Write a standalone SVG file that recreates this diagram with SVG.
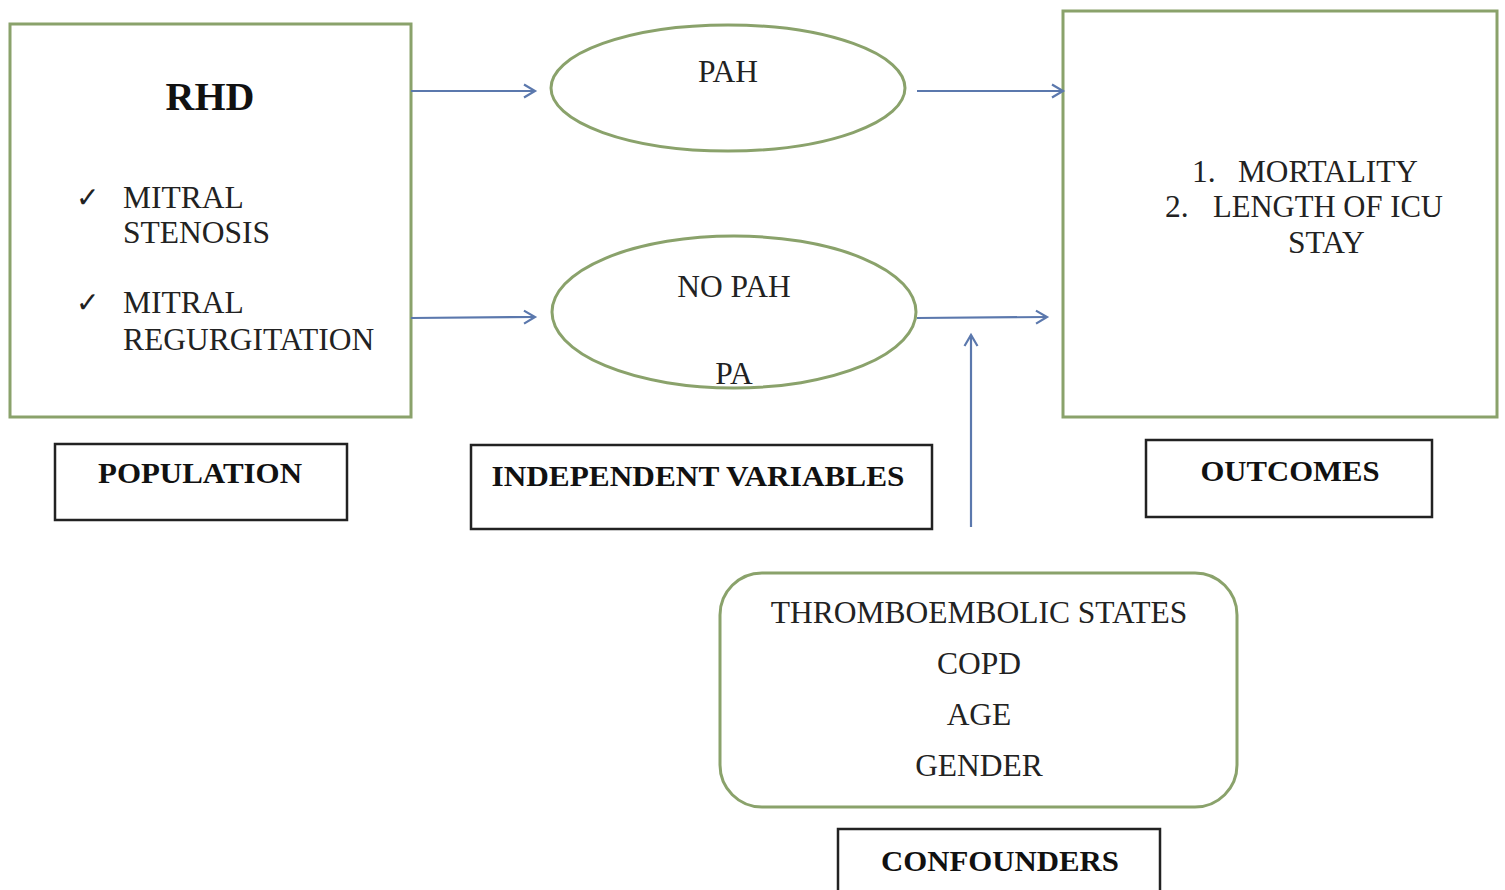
<svg xmlns="http://www.w3.org/2000/svg" width="1505" height="890" viewBox="0 0 1505 890">
<defs>
<marker id="arr" markerWidth="16" markerHeight="16" refX="13" refY="8" orient="auto" markerUnits="userSpaceOnUse">
<path d="M2,1.5 L13,8 L2,14.5" fill="none" stroke="#5b78ad" stroke-width="2.2"/>
</marker>
<style>
.g{fill:#fff;stroke:#8aa26b;stroke-width:3}
.k{fill:#fff;stroke:#222;stroke-width:2.5}
.t{font-family:"Liberation Serif",serif;font-size:31.5px;fill:#222}
.b{font-family:"Liberation Serif",serif;font-weight:bold;font-size:30px;fill:#111}
.c{stroke:#5b78ad;stroke-width:2.2;fill:none;marker-end:url(#arr)}
</style>
</defs>
<rect width="1505" height="890" fill="#fff"/>
<g id="population">
<rect class="g" x="10" y="24" width="401" height="393"/>
<text class="b" x="210" y="110" text-anchor="middle" style="font-size:40px">RHD</text>
<text class="t" x="76" y="207" style="font-size:28px">✓</text>
<text class="t" x="123" y="208">MITRAL</text>
<text class="t" x="123" y="243">STENOSIS</text>
<text class="t" x="76" y="312" style="font-size:28px">✓</text>
<text class="t" x="123" y="313">MITRAL</text>
<text class="t" x="123" y="350">REGURGITATION</text>
</g>
<g id="pah">
<ellipse class="g" cx="728" cy="88" rx="177" ry="63"/>
<text class="t" x="728" y="82" text-anchor="middle">PAH</text>
</g>
<g id="nopah">
<ellipse class="g" cx="734" cy="312" rx="182" ry="76"/>
<text class="t" x="734" y="297" text-anchor="middle">NO PAH</text>
<text class="t" x="734" y="384" text-anchor="middle">PA</text>
</g>
<g id="outcomes">
<rect class="g" x="1063" y="11" width="434" height="406"/>
<text class="t" x="1192" y="182">1.</text>
<text class="t" x="1238" y="182" textLength="180" lengthAdjust="spacingAndGlyphs">MORTALITY</text>
<text class="t" x="1165" y="217">2.</text>
<text class="t" x="1213" y="217" textLength="230" lengthAdjust="spacingAndGlyphs">LENGTH OF ICU</text>
<text class="t" x="1288" y="253">STAY</text>
</g>
<g id="confounders">
<rect class="g" x="720" y="573" width="517" height="234" rx="42"/>
<text class="t" x="979" y="623" text-anchor="middle">THROMBOEMBOLIC STATES</text>
<text class="t" x="979" y="674" text-anchor="middle">COPD</text>
<text class="t" x="979" y="725" text-anchor="middle">AGE</text>
<text class="t" x="979" y="776" text-anchor="middle">GENDER</text>
</g>
<g id="label-population">
<rect class="k" x="55" y="444" width="292" height="76"/>
<text class="b" x="200" y="483" text-anchor="middle" textLength="204" lengthAdjust="spacingAndGlyphs">POPULATION</text>
</g>
<g id="label-independent">
<rect class="k" x="471" y="445" width="461" height="84"/>
<text class="b" x="698" y="486" text-anchor="middle" textLength="413" lengthAdjust="spacingAndGlyphs">INDEPENDENT VARIABLES</text>
</g>
<g id="label-outcomes">
<rect class="k" x="1146" y="440" width="286" height="77"/>
<text class="b" x="1290" y="481" text-anchor="middle" textLength="179" lengthAdjust="spacingAndGlyphs">OUTCOMES</text>
</g>
<g id="label-confounders">
<rect class="k" x="838" y="829" width="322" height="70"/>
<text class="b" x="1000" y="871" text-anchor="middle" textLength="238" lengthAdjust="spacingAndGlyphs">CONFOUNDERS</text>
</g>
<g id="connectors">
<line class="c" x1="411" y1="91" x2="535" y2="91"/>
<line class="c" x1="411" y1="318" x2="535" y2="317"/>
<line class="c" x1="917" y1="91" x2="1063" y2="91"/>
<line class="c" x1="917" y1="318" x2="1047" y2="317"/>
<line class="c" x1="971" y1="527" x2="971" y2="335"/>
</g>
</svg>
